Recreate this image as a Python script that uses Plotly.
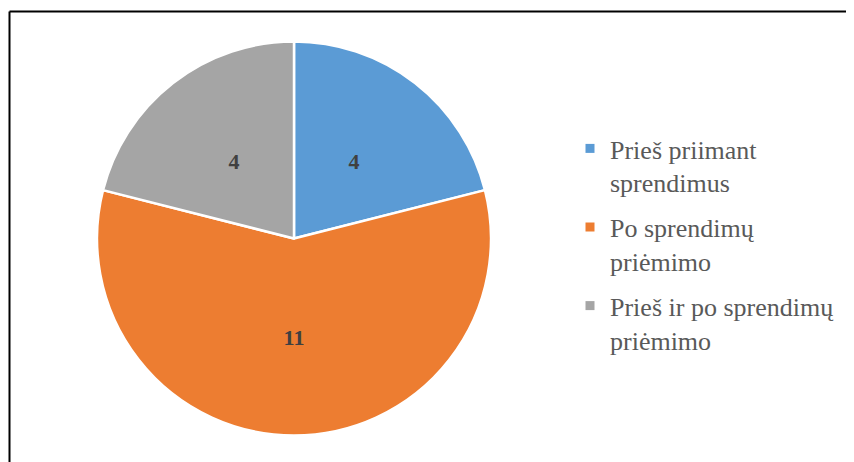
import plotly.graph_objects as go

labels = ["Prieš priimant<br>sprendimus", "Po sprendimų<br>priėmimo", "Prieš ir po sprendimų<br>priėmimo"]
values = [4, 11, 4]
colors = ["#5B9BD5", "#ED7D31", "#A5A5A5"]
# which slices get their value label on the main pie vs. the inner (label-only) pie
main_text = ["", "%{value}", ""]
inner_text = ["%{value}", "", "%{value}"]

W, H = 854, 462
OFF = 8  # page body margin
cx, cy, r = 294 - OFF, 238.5 - OFF, 197
ri = r * 0.8

SERIF = "Liberation Serif, 'Times New Roman', Times, serif"
label_font = dict(family=SERIF, size=22, color="#404040", weight="bold")


def dom(rad):
    return dict(x=[(cx - rad) / W, (cx + rad) / W], y=[(H - cy - rad) / H, (H - cy + rad) / H])


fig = go.Figure()
fig.add_trace(go.Pie(
    labels=labels, values=values, sort=False, direction="clockwise", rotation=0,
    marker=dict(colors=colors, line=dict(color="white", width=2.5)),
    texttemplate=main_text, textposition="inside", insidetextorientation="horizontal",
    textfont=label_font, domain=dom(r), hoverinfo="label+value", showlegend=False,
))
fig.add_trace(go.Pie(
    labels=labels, values=values, sort=False, direction="clockwise", rotation=0,
    marker=dict(colors=["rgba(0,0,0,0)"] * 3, line=dict(width=0)),
    texttemplate=inner_text, textposition="inside", insidetextorientation="horizontal",
    textfont=label_font, domain=dom(ri), hoverinfo="skip", showlegend=False,
))

# legend entries (one group each so the gap between entries can be set)
for lab, col in zip(labels, colors):
    fig.add_trace(go.Scatter(
        x=[None], y=[None], mode="markers", name=lab, legendgroup=lab,
        marker=dict(symbol="square", size=9, color=col), hoverinfo="skip",
    ))

fig.update_layout(
    width=W, height=H,
    margin=dict(l=0, r=0, t=0, b=0),
    paper_bgcolor="white",
    plot_bgcolor="white",
    showlegend=True,
    font=dict(family=SERIF),
    xaxis=dict(visible=False),
    yaxis=dict(visible=False),
    legend=dict(
        x=562 / W, y=1 - 117 / H, xanchor="left", yanchor="top",
        font=dict(family=SERIF, size=26, color="#595959"),
        bgcolor="rgba(0,0,0,0)",
        tracegroupgap=8, valign="top",
    ),
    shapes=[
        dict(type="line", xref="paper", yref="paper", x0=1.5 / W, x1=1.01, y0=1 - 3.5 / H, y1=1 - 3.5 / H,
             line=dict(color="black", width=2)),
        dict(type="line", xref="paper", yref="paper", x0=1.5 / W, x1=1.5 / W, y0=-0.01, y1=1 - 3.5 / H,
             line=dict(color="black", width=2)),
    ],
)

fig.write_html("out.html")
